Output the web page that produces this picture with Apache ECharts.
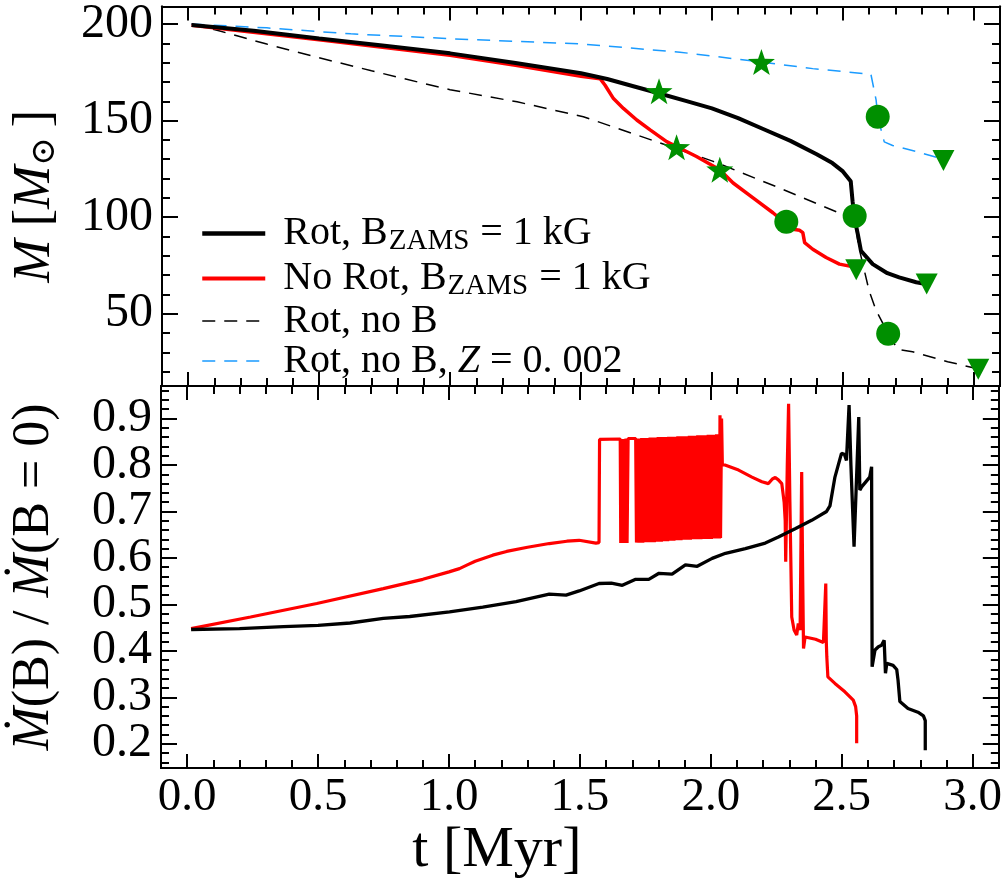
<!DOCTYPE html>
<html>
<head>
<meta charset="utf-8">
<script src="https://cdn.jsdelivr.net/npm/echarts@6/dist/echarts.min.js"></script>
<style>
  html, body { margin: 0; padding: 0; background: #fff; }
  #main { width: 1005px; height: 888px; }
</style>
</head>
<body>
<div id="main"></div>
<script>
// tick labels
const tTicks = [0, 0.5, 1, 1.5, 2, 2.5, 3];
const massTicks = [50, 100, 150, 200];
const ratioTicks = [0.2, 0.3, 0.4, 0.5, 0.6, 0.7, 0.8, 0.9];

// top panel: mass [Msun] vs t [Myr]
const massRotB = [[0.013,199.5],[0.25,196.5],[0.5,192.5],[0.75,188.7],[1.0,184.8],[1.25,179.8],[1.5,174.5],[1.6,171.5],[1.7,167.8],[1.8,164],[1.9,160.2],[2.0,156.3],[2.1,151.3],[2.2,145.4],[2.3,139.5],[2.4,132.6],[2.46,128],[2.5,123.7],[2.53,118.6],[2.537,108.3],[2.544,99.7],[2.557,91.2],[2.569,82.6],[2.614,75.7],[2.67,71],[2.715,68.8],[2.78,66.3],[2.817,65.4]];
const massNoRotB = [[0.013,199.3],[0.5,191.8],[1.0,183.8],[1.25,178.6],[1.5,173],[1.573,171.7],[1.592,168.3],[1.624,161.4],[1.662,156.3],[1.713,150.3],[1.764,145.2],[1.827,139.1],[1.878,135.7],[1.941,131.4],[2.03,124.6],[2.081,117.7],[2.157,110],[2.233,102.3],[2.309,93.7],[2.335,93.2],[2.347,92],[2.354,86.8],[2.385,83.4],[2.436,79.1],[2.487,75.7],[2.55,74]];
const massRotNoB = [[0.013,200],[0.114,196.6],[0.2,193.4],[0.3,189.6],[0.4,186],[0.5,182.5],[0.7,175.8],[0.876,170],[1.0,166],[1.256,159.7],[1.509,152],[1.751,140.8],[2.005,128.9],[2.258,115.1],[2.5,101.4],[2.545,99.5],[2.56,85],[2.6,62],[2.627,51.7],[2.673,39.7],[2.71,31.5],[2.766,30.3],[2.9,25.2],[3.015,21.5]];
const massRotNoBZ = [[0.013,200],[0.3,198],[0.621,194.9],[1.0,192.4],[1.497,189.7],[1.878,185.4],[2.189,180.3],[2.385,176.9],[2.607,174],[2.627,160.6],[2.633,152],[2.658,139],[2.69,137.1],[2.779,134],[2.884,130]];

// green markers on the mass tracks
const starPts = [[1.798,165.2],[1.865,136.2],[2.03,124.6],[2.189,180.3]];
const circlePts = [[2.284,97.6],[2.545,100.6],[2.633,152],[2.673,39.7]];
const trianglePts = [[2.551,72.8],[2.82,65.4],[2.884,129.3],[3.017,21.3]];

// bottom panel: Mdot(B)/Mdot(B=0) vs t [Myr]
const ratioNoRot = [
  [0.015,0.448],[0.242,0.473],[0.495,0.502],[0.749,0.534],[0.9,0.554],[1.0,0.57],[1.04,0.577],[1.07,0.585],[1.1,0.593],[1.167,0.606],[1.22,0.614],
  [1.3,0.623],[1.383,0.631],[1.45,0.636],[1.497,0.638],[1.561,0.632],
  [1.573,0.633],[1.575,0.855],[1.654,0.856],[1.656,0.632],[1.66,0.856],[1.664,0.632],[1.668,0.856],[1.672,0.632],[1.676,0.857],[1.68,0.632],[1.684,0.857],[1.713,0.857],
  [1.716,0.633],[1.72,0.857],[1.724,0.633],[1.728,0.857],[1.732,0.633],[1.736,0.858],[1.74,0.633],[1.744,0.858],[1.748,0.634],[1.752,0.858],[1.756,0.634],
  [1.76,0.858],[1.764,0.634],[1.768,0.859],[1.772,0.859],[1.776,0.634],[1.78,0.859],[1.784,0.634],[1.788,0.859],[1.791,0.859],[1.795,0.635],[1.799,0.86],
  [1.803,0.635],[1.807,0.86],[1.811,0.635],[1.815,0.86],[1.819,0.636],[1.823,0.86],[1.827,0.636],[1.831,0.86],[1.835,0.636],[1.839,0.861],[1.843,0.637],
  [1.847,0.861],[1.851,0.637],[1.855,0.861],[1.859,0.637],[1.863,0.861],[1.866,0.861],[1.87,0.638],[1.874,0.862],[1.878,0.638],[1.882,0.862],[1.886,0.638],
  [1.89,0.862],[1.894,0.862],[1.898,0.639],[1.902,0.862],[1.906,0.639],[1.91,0.862],[1.914,0.639],[1.918,0.863],[1.922,0.639],[1.926,0.863],[1.93,0.64],
  [1.934,0.863],[1.938,0.64],[1.942,0.863],[1.946,0.64],[1.95,0.864],[1.954,0.64],[1.958,0.864],[1.962,0.64],[1.966,0.864],[1.97,0.641],[1.974,0.864],
  [1.978,0.641],[1.982,0.864],[1.986,0.641],[1.99,0.865],[1.994,0.641],[1.998,0.865],[2.002,0.641],[2.006,0.865],[2.01,0.642],[2.014,0.865],[2.018,0.642],
  [2.022,0.866],[2.026,0.642],[2.03,0.866],[2.033,0.642],[2.035,0.907],[2.037,0.643],[2.041,0.9],[2.044,0.8],
  [2.054,0.8],[2.106,0.789],[2.157,0.774],[2.195,0.764],[2.22,0.76],[2.235,0.77],[2.246,0.773],[2.258,0.768],[2.271,0.76],[2.28,0.72],[2.284,0.68],[2.286,0.592],
  [2.292,0.8],[2.297,0.932],[2.302,0.72],[2.309,0.473],[2.318,0.445],[2.328,0.434],[2.334,0.459],[2.341,0.445],[2.347,0.785],[2.351,0.55],[2.354,0.405],
  [2.36,0.43],[2.4,0.425],[2.43,0.418],[2.437,0.415],[2.439,0.545],[2.441,0.42],[2.443,0.387],[2.447,0.344],[2.474,0.33],[2.512,0.312],[2.544,0.294],
  [2.553,0.28],[2.557,0.26],[2.557,0.201]
];
const ratioRot = [
  [0.015,0.446],[0.2,0.448],[0.368,0.452],[0.5,0.455],[0.622,0.46],[0.749,0.47],[0.85,0.474],[1.002,0.484],[1.129,0.494],[1.256,0.506],[1.383,0.522],
  [1.447,0.52],[1.497,0.529],[1.573,0.545],[1.62,0.546],[1.662,0.541],[1.713,0.554],[1.763,0.554],[1.802,0.567],[1.852,0.565],[1.903,0.585],[1.948,0.582],
  [2.005,0.599],[2.056,0.61],[2.132,0.62],[2.208,0.632],[2.258,0.645],[2.322,0.663],[2.385,0.681],[2.442,0.7],[2.455,0.712],[2.474,0.774],[2.499,0.825],
  [2.51,0.823],[2.518,0.81],[2.528,0.929],[2.535,0.8],[2.547,0.624],[2.553,0.624],[2.565,0.903],[2.569,0.746],[2.576,0.753],[2.607,0.774],[2.614,0.796],
  [2.616,0.366],[2.627,0.402],[2.64,0.409],[2.652,0.412],[2.662,0.423],[2.667,0.352],[2.672,0.373],[2.696,0.369],[2.71,0.36],[2.715,0.337],[2.722,0.291],
  [2.753,0.276],[2.791,0.268],[2.812,0.26],[2.819,0.25],[2.819,0.186]
];

const FONT = "'Liberation Serif', 'DejaVu Serif', serif";
const GREEN = '#008f00';
const BLUE = '#1a9bff';
const STAR = 'path://M0,-10 L2.35,-3.24 L9.51,-3.09 L3.8,1.24 L5.88,8.09 L0,4 L-5.88,8.09 L-3.8,1.24 L-9.51,-3.09 L-2.35,-3.24 Z';

function steps(from, to, step) {
  const out = [];
  for (let v = from; v <= to + 1e-9; v += step) out.push(+v.toFixed(4));
  return out;
}
const tMinor = steps(0, 3, 0.1);
const massMinor = steps(20, 200, 10);
const ratioMinor = steps(0.16, 0.96, 0.02);

const black = { color: '#000', width: 2 };

// the main axis carries the long ticks, the second one the short ticks;
// each may carry its own share of the tick labels so they never get culled
function axisPair(kind, grid, pos, min, max, major, minor, label, extra, minorLabel) {
  const base = {
    type: 'value', gridIndex: grid, position: pos, min: min, max: max,
    splitLine: { show: false },
    axisLine: { show: true, onZero: false, lineStyle: black }
  };
  const main = Object.assign({}, base, {
    axisTick: { show: true, inside: true, length: kind === 'x' ? 14 : 16, customValues: major, lineStyle: black },
    axisLabel: label || { show: false }
  }, extra || {});
  const small = Object.assign({}, base, {
    axisTick: { show: true, inside: true, length: 8, customValues: minor, lineStyle: black },
    axisLabel: minorLabel || { show: false }
  });
  return [main, small];
}

function yLabel(values, fmt) {
  return {
    show: true, customValues: values, margin: 9, hideOverlap: false,
    fontFamily: FONT, fontSize: 48, color: '#000', formatter: fmt
  };
}
const tLabel = {
  show: true, customValues: tTicks, margin: 6, hideOverlap: false,
  fontFamily: FONT, fontSize: 47, color: '#000',
  formatter: v => v.toFixed(1)
};
const massLabel = yLabel(massTicks, v => String(v));
const ratioLabelEven = yLabel(ratioTicks.filter((v, i) => i % 2 === 0), v => v.toFixed(1));
const ratioLabelOdd = yLabel(ratioTicks.filter((v, i) => i % 2 === 1), v => v.toFixed(1));

const nameRich = {
  i: { fontFamily: FONT, fontStyle: 'italic', fontSize: 52, lineHeight: 58, color: '#000' },
  n: { fontFamily: FONT, fontSize: 52, lineHeight: 58, color: '#000' },
  o: { fontFamily: "'DejaVu Serif', serif", fontSize: 34, lineHeight: 34, color: '#000', padding: [20, 10, 0, 0] }
};

const T_MIN = -0.1, T_MAX = 3.1;
const M_MIN = 12.6, M_MAX = 209;
const R_MIN = 0.148, R_MAX = 0.97;

const xAxis = [].concat(
  axisPair('x', 0, 'bottom', T_MIN, T_MAX, tTicks, tMinor),
  axisPair('x', 0, 'top', T_MIN, T_MAX, tTicks, tMinor),
  axisPair('x', 1, 'bottom', T_MIN, T_MAX, tTicks, tMinor, tLabel, {
    name: 't [Myr]', nameLocation: 'middle', nameGap: 49,
    nameTextStyle: { fontFamily: FONT, fontSize: 58, color: '#000', padding: [0, 166, 0, 0] }
  }),
  axisPair('x', 1, 'top', T_MIN, T_MAX, tTicks, tMinor)
);

const yAxis = [].concat(
  axisPair('y', 0, 'left', M_MIN, M_MAX, massTicks, massMinor, massLabel, {
    name: '{i|M}{n| [}{i|M}{o|⊙}{n|]}', nameLocation: 'middle', nameGap: 98, nameRotate: 90,
    nameTextStyle: { rich: nameRich }
  }),
  axisPair('y', 0, 'right', M_MIN, M_MAX, massTicks, massMinor),
  axisPair('y', 1, 'left', R_MIN, R_MAX, ratioTicks, ratioMinor, ratioLabelEven, {
    name: '{i|Ṁ}{n|(B) / }{i|Ṁ}{n|(B = 0)}', nameLocation: 'middle', nameGap: 98, nameRotate: 90,
    nameTextStyle: { rich: nameRich }
  }, ratioLabelOdd),
  axisPair('y', 1, 'right', R_MIN, R_MAX, ratioTicks, ratioMinor)
);

function line(name, data, grid, color, width, type, z) {
  return {
    name: name, type: 'line', data: data,
    xAxisIndex: grid * 4, yAxisIndex: grid * 4,
    symbol: 'none', showSymbol: false, animation: false, z: z,
    lineStyle: { color: color, width: width, type: type },
    itemStyle: { color: color }
  };
}
function markers(name, data, symbol, size, rotate) {
  return {
    name: name, type: 'scatter', data: data,
    xAxisIndex: 0, yAxisIndex: 0, z: 10, animation: false,
    symbol: symbol, symbolSize: size, symbolRotate: rotate || 0,
    itemStyle: { color: GREEN, opacity: 1 }
  };
}

const legendLabels = {
  rotB: '{t|Rot, B}{s|ZAMS}{t| = 1 kG}',
  noRotB: '{t|No Rot, B}{s|ZAMS}{t| = 1 kG}',
  rotNoB: '{t|Rot, no B}',
  rotNoBZ: '{t|Rot, no B, }{it|Z}{t| = 0. 002}'
};

const chart = echarts.init(document.getElementById('main'));
chart.setOption({
  animation: false,
  backgroundColor: '#fff',
  grid: [
    { left: 160, top: 4, width: 840, height: 382 },
    { left: 160, top: 386, width: 840, height: 382 }
  ],
  xAxis: xAxis,
  yAxis: yAxis,
  legend: {
    data: [
      { name: 'rotB', lineStyle: { width: 4.5 } },
      { name: 'noRotB', lineStyle: { width: 4 } },
      { name: 'rotNoB', lineStyle: { width: 1.5 } },
      { name: 'rotNoBZ', lineStyle: { width: 1.5 } }
    ],
    orient: 'vertical', left: 200, top: 211, padding: 0, itemGap: 0,
    itemWidth: 63, itemHeight: 12,
    selectedMode: false,
    itemStyle: { opacity: 0, borderWidth: 0 },
    formatter: n => legendLabels[n],
    textStyle: {
      padding: [0, 0, 0, 13],
      rich: {
        t: { fontFamily: FONT, fontSize: 40, lineHeight: 40.5, color: '#000' },
        it: { fontFamily: FONT, fontStyle: 'italic', fontSize: 40, lineHeight: 40.5, color: '#000' },
        s: { fontFamily: FONT, fontSize: 29, lineHeight: 24, color: '#000', padding: [16, 1, 0, 1] }
      }
    }
  },
  series: [
    line('noRotB', massNoRotB, 0, '#ff0000', 3.5, 'solid', 3),
    line('rotB', massRotB, 0, '#000000', 4, 'solid', 4),
    line('rotNoB', massRotNoB, 0, '#000000', 1.5, [13, 9], 2),
    line('rotNoBZ', massRotNoBZ, 0, BLUE, 1.5, [13, 9], 2),
    markers('star', starPts, STAR, [27, 26]),
    markers('circle', circlePts, 'circle', 24),
    markers('triangle', trianglePts, 'triangle', [22, 21], 180),
    line('ratioNoRot', ratioNoRot, 1, '#ff0000', 3.2, 'solid', 3),
    line('ratioRot', ratioRot, 1, '#000000', 3.3, 'solid', 4)
  ]
});
</script>
</body>
</html>
